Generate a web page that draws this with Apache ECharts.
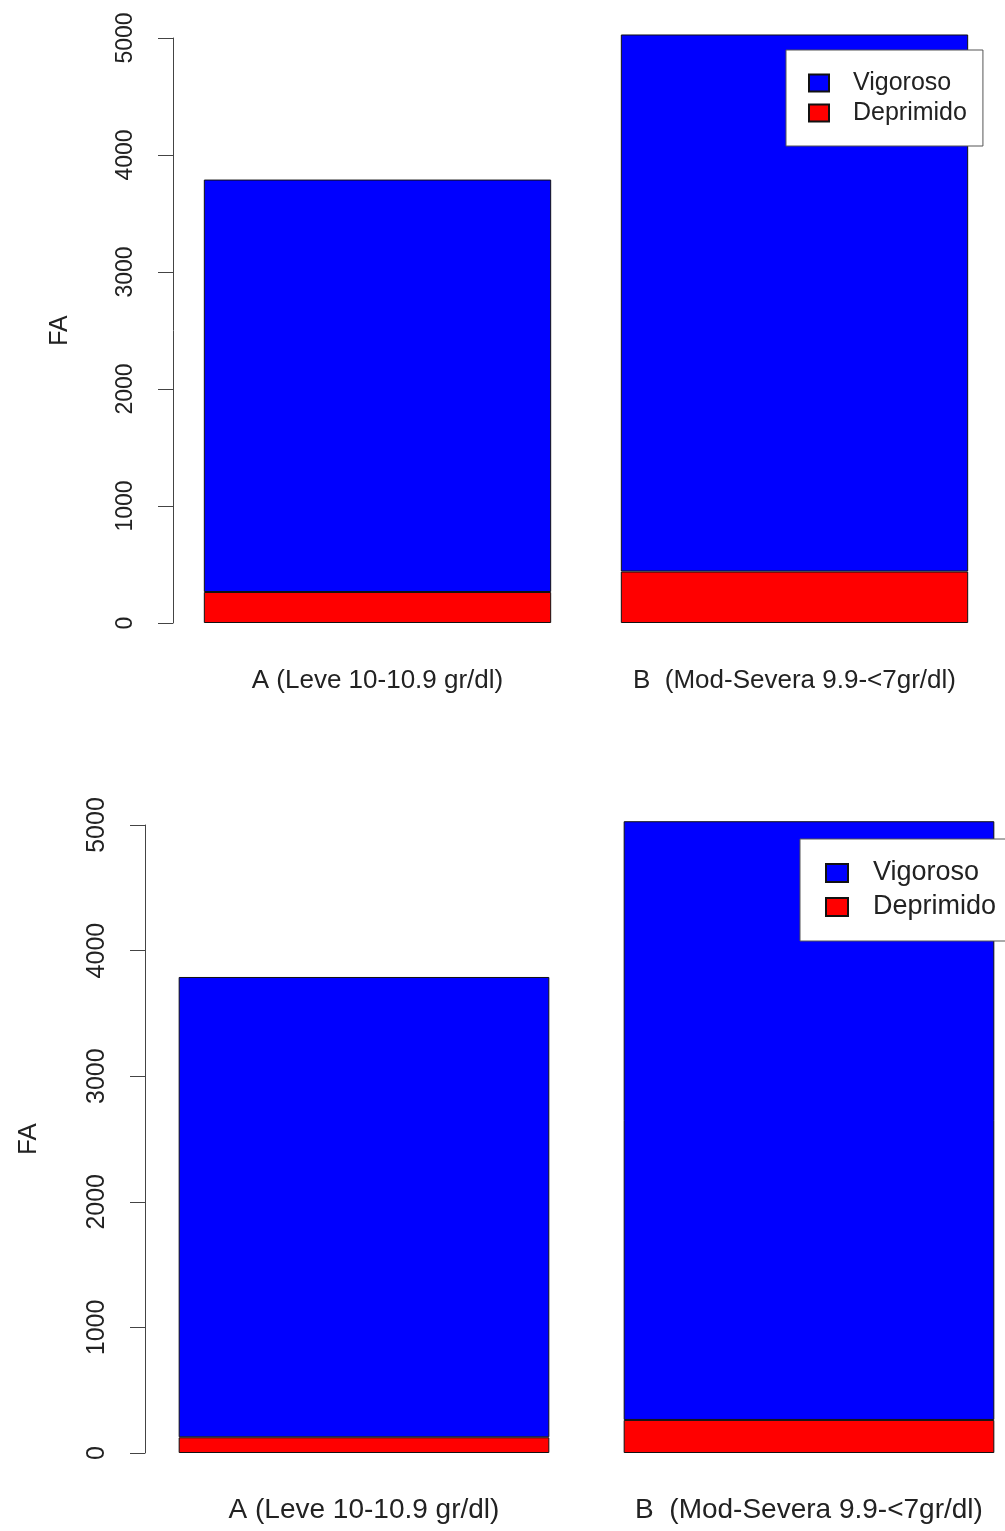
<!DOCTYPE html>
<html>
<head>
<meta charset="utf-8">
<script src="https://cdn.jsdelivr.net/npm/echarts@6/dist/echarts.min.js"></script>
<style>
  html, body { margin: 0; padding: 0; background: #fff; }
  #chart { width: 1005px; height: 1531px; }
</style>
</head>
<body>
<div id="chart"></div>
<script>
// Hemoglobin groups shown on the x axis
const categories = ['A (Leve 10-10.9 gr/dl)', 'B  (Mod-Severa 9.9-<7gr/dl)'];
const seriesNames = ['Vigoroso', 'Deprimido'];
const yTicks = [0, 1000, 2000, 3000, 4000, 5000];

// Upper panel frequencies
const topDeprimido = [265, 440];
const topVigoroso = [3525, 4590];

// Lower panel frequencies
const bottomDeprimido = [125, 263];
const bottomVigoroso = [3665, 4767];

const BLUE = '#0000ff';
const RED = '#ff0000';
const INK = '#222';

function yAxisFor(gridIndex, fontSize, labelMargin, nameGap, nameSize, offset) {
  return {
    type: 'value', gridIndex: gridIndex,
    min: yTicks[0], max: yTicks[yTicks.length - 1], interval: yTicks[1] - yTicks[0],
    offset: offset,
    name: 'FA', nameLocation: 'middle', nameRotate: 90, nameGap: nameGap,
    nameTextStyle: { fontFamily: 'Liberation Sans', fontSize: nameSize, color: INK },
    axisLine: { show: true, lineStyle: { color: '#444', width: 1 } },
    axisTick: { show: true, length: 15, lineStyle: { color: '#444', width: 1 } },
    axisLabel: {
      rotate: 90, margin: labelMargin, fontFamily: 'Liberation Sans', fontSize: fontSize, color: INK,
      formatter: function (v) { return String(v); }
    },
    splitLine: { show: false }
  };
}

function xAxisFor(gridIndex, fontSize, margin) {
  return {
    type: 'category', gridIndex: gridIndex, data: categories,
    axisLine: { show: false }, axisTick: { show: false },
    axisLabel: { margin: margin, fontFamily: 'Liberation Sans', fontSize: fontSize, color: INK, interval: 0 }
  };
}

function barSeries(name, data, color, idx, stack) {
  return {
    type: 'bar', name: name, data: data, stack: stack,
    xAxisIndex: idx, yAxisIndex: idx,
    barWidth: '83.3%', clip: false,
    itemStyle: { color: color, borderColor: '#111', borderWidth: 1 },
    emphasis: { disabled: true }
  };
}

function legendAt(left, top, pad, iw, ih, fs, lh, textPad) {
  return {
    orient: 'vertical', left: left, top: top, padding: pad,
    data: [seriesNames[0], seriesNames[1]],
    icon: 'rect', itemWidth: iw, itemHeight: ih, itemGap: 0,
    backgroundColor: '#fff', borderColor: '#555', borderWidth: 1, borderRadius: 0,
    selectedMode: false,
    textStyle: { fontFamily: 'Liberation Sans', fontSize: fs, lineHeight: lh, color: INK, padding: [0, 0, 0, textPad] }
  };
}

const chart = echarts.init(document.getElementById('chart'), null, { renderer: 'canvas' });
chart.setOption({
  animation: false,
  backgroundColor: '#fff',
  grid: [
    { left: 169, top: 38, width: 834, height: 585, outerBoundsMode: 'none' },
    { left: 141.5, top: 825, width: 890, height: 628, outerBoundsMode: 'none' }
  ],
  xAxis: [xAxisFor(0, 26, 45), xAxisFor(1, 28, 43)],
  yAxis: [yAxisFor(0, 23, 36, 100, 25, -4), yAxisFor(1, 25, 35, 103, 26, -3.5)],
  legend: [
    legendAt(786, 50, [18, 16, 18, 22], 20, 17, 25, 30, 19),
    legendAt(800, 839, [17, 20, 17, 25], 22, 18, 27, 34, 20)
  ],
  series: [
    barSeries(seriesNames[1], topDeprimido, RED, 0, 'top'),
    barSeries(seriesNames[0], topVigoroso, BLUE, 0, 'top'),
    barSeries(seriesNames[1], bottomDeprimido, RED, 1, 'bottom'),
    barSeries(seriesNames[0], bottomVigoroso, BLUE, 1, 'bottom')
  ]
});
</script>
</body>
</html>
